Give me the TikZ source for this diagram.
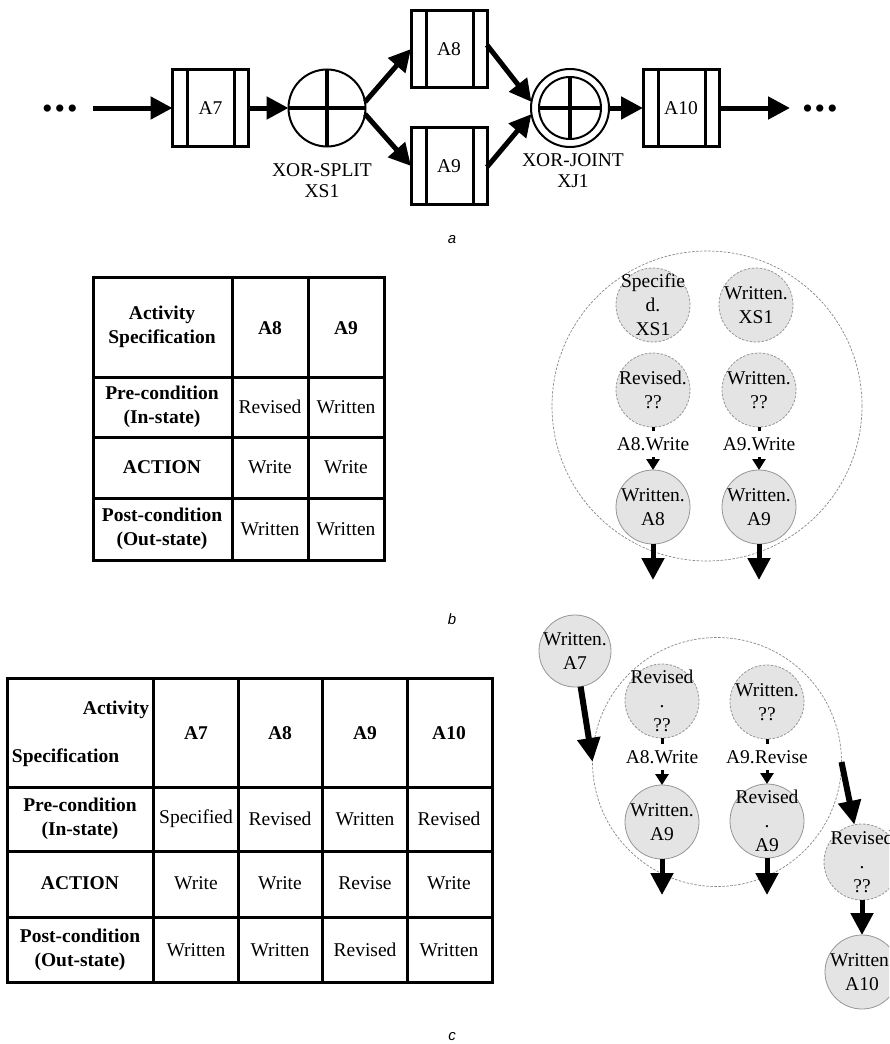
\documentclass[tikz,border=0pt]{standalone}
\usepackage{fontspec}
\setmainfont{Liberation Serif}
\newfontfamily\figlabel{Liberation Sans}
\usetikzlibrary{arrows.meta}
\definecolor{statefill}{RGB}{228,228,228}
\definecolor{stateline}{RGB}{150,150,150}
\definecolor{zoneline}{RGB}{135,135,135}

\begin{document}
\begin{tikzpicture}[x=1pt,y=-1pt,
  every node/.style={inner sep=0pt, outer sep=0pt, font=\fontsize{19.5}{23}\selectfont},
  activity/.style={draw, line width=3pt, minimum width=76pt, minimum height=77pt},
  gate/.style={circle, draw, line width=2pt},
  flow/.style={line width=5pt, -{Triangle[length=22pt,width=22pt]}},
  bigflow/.style={line width=6pt, -{Triangle[length=24pt,width=22pt]}},
  event/.style={line width=3pt, -{Triangle[length=11pt,width=13pt]}},
  evlabel/.style={fill=white, minimum height=26pt, inner xsep=1pt},
  stnode/.style={circle, fill=statefill, draw=stateline, line width=0.8pt, minimum size=74pt},
  guess/.style={stnode, dash pattern=on 2.5pt off 1.5pt},
  zone/.style={circle, draw=zoneline, line width=0.7pt, dash pattern=on 2.5pt off 1.5pt},
  tablerule/.style={line width=3pt},
  bodycell/.style={align=center},
  headcell/.style={align=center, font=\fontsize{19.5}{24}\selectfont\bfseries},
  partlabel/.style={font=\figlabel\itshape\fontsize{15}{15}\selectfont},
  txt/.style={align=center, font=\fontsize{19.5}{21}\selectfont},
  inside/.style={align=center, font=\fontsize{19.5}{24}\selectfont},
  dots/.style={font=\fontsize{30}{30}\selectfont}
]
\useasboundingbox (0,0) rectangle (889,1044);
\clip (0,0) rectangle (889,1044);

% ---------- (a) process fragment ----------
\node[activity] (a7) at (210.5,108) {A7};
\node[activity] (a8) at (449,49) {A8};
\node[activity] (a9) at (449,166) {A9};
\node[activity] (a10) at (681,108) {A10};
\foreach \b in {a7,a8,a9,a10}{
  \draw[line width=3pt] ([xshift=15pt]\b.north west) -- ([xshift=15pt]\b.south west)
    ([xshift=-14pt]\b.north east) -- ([xshift=-14pt]\b.south east);
}
\node[gate, minimum size=77pt] (xs1) at (327,108) {};
\draw[line width=4pt] (xs1.west) -- (xs1.east) (xs1.north) -- (xs1.south);
\node[gate, minimum size=78pt] (xj1) at (570,108) {};
\node[gate, minimum size=62pt] (xj1i) at (570,108) {};
\draw[line width=4pt] (xj1i.west) -- (xj1i.east) (xj1i.north) -- (xj1i.south);

\node[dots] (dl) at (60,112) {•\hspace{2pt}•\hspace{2pt}•};
\node[dots] (dr) at (820,112) {•\hspace{2pt}•\hspace{2pt}•};
\coordinate (in) at (93,108);
\coordinate (out) at (790,108);
\draw[flow] (in) -- (a7.west);
\draw[flow] (a7.east) -- (xs1.west);
\draw[flow] (xs1.9) -- (a8.west);
\draw[flow] (xs1.-9) -- (a9.west);
\draw[flow] ([yshift=4pt]a8.east) -- (xj1.171);
\draw[flow] ([yshift=-1pt]a9.east) -- (xj1.189);
\draw[flow] (xj1.east) -- (a10.west);
\draw[flow] (a10.east) -- (out);

\node[txt] (xs1l) at (322,181) {XOR-SPLIT\\XS1};
\node[txt] (xj1l) at (573,171) {XOR-JOINT\\XJ1};
\node[partlabel] (capa) at (452,240) {a};

% ---------- (b) table ----------
\draw[tablerule] (93,277) rectangle (384,560);
\draw[tablerule] (232,277) -- (232,560) (308,277) -- (308,560)
  (93,377) -- (384,377) (93,437) -- (384,437) (93,498) -- (384,498);
\node[headcell] (tb-h) at (162,327) {Activity\\Specification};
\node[headcell] (tb-a8) at (270,328) {A8};
\node[headcell] (tb-a9) at (346,328) {A9};
\node[headcell] (tb-pre) at (162,407) {Pre-condition\\(In-state)};
\node[bodycell] (tb-pre8) at (270,407) {Revised};
\node[bodycell] (tb-pre9) at (346,407) {Written};
\node[headcell] (tb-act) at (162,467) {ACTION};
\node[bodycell] (tb-act8) at (270,467) {Write};
\node[bodycell] (tb-act9) at (346,467) {Write};
\node[headcell] (tb-post) at (162,529) {Post-condition\\(Out-state)};
\node[bodycell] (tb-post8) at (270,529) {Written};
\node[bodycell] (tb-post9) at (346,529) {Written};

% ---------- (b) state graph ----------
\node[zone, minimum size=310pt] (zb) at (707,406) {};
\node[guess] (s1) at (653,305) {};
\node[guess] (w1) at (756,305) {};
\node[guess] (r8) at (653,390) {};
\node[guess] (w9q) at (759,390) {};
\node[stnode] (w8) at (653,507) {};
\node[stnode] (w9) at (759,507) {};
\node[inside] (t-s1) at (s1) {Specifie\\d.\\XS1};
\node[inside] (t-w1) at (w1) {Written.\\XS1};
\node[inside] (t-r8) at (r8) {Revised.\\??};
\node[inside] (t-w9q) at (w9q) {Written.\\??};
\node[inside] (t-w8) at (w8) {Written.\\A8};
\node[inside] (t-w9) at (w9) {Written.\\A9};
\draw[event] (r8) -- node[evlabel, pos=0.4] (l8) {A8.Write} (w8);
\draw[event] (w9q) -- node[evlabel, pos=0.4] (l9) {A9.Write} (w9);
\coordinate (e8) at (653,580);
\coordinate (e9) at (759,580);
\draw[flow] (w8) -- (e8);
\draw[flow] (w9) -- (e9);
\node[partlabel] (capb) at (452,619) {b};

% ---------- (c) table ----------
\draw[tablerule] (7,678) rectangle (492,982);
\draw[tablerule] (153,678) -- (153,982) (238,678) -- (238,982)
  (322,678) -- (322,982) (407,678) -- (407,982)
  (7,787) -- (492,787) (7,851) -- (492,851) (7,917) -- (492,917);
\node[headcell, anchor=east] (tc-h1) at (149,710) {Activity};
\node[headcell, anchor=west] (tc-h2) at (12,758) {Specification};
\node[headcell] (tc-a7) at (196,733) {A7};
\node[headcell] (tc-a8) at (280,733) {A8};
\node[headcell] (tc-a9) at (365,733) {A9};
\node[headcell] (tc-a10) at (449,733) {A10};
\node[headcell] (tc-pre) at (80,819) {Pre-condition\\(In-state)};
\node[bodycell] (tc-pre7) at (196,819) {Specified};
\node[bodycell] (tc-pre8) at (280,819) {Revised};
\node[bodycell] (tc-pre9) at (365,819) {Written};
\node[bodycell] (tc-pre10) at (449,819) {Revised};
\node[headcell] (tc-act) at (80,883) {ACTION};
\node[bodycell] (tc-act7) at (196,883) {Write};
\node[bodycell] (tc-act8) at (280,883) {Write};
\node[bodycell] (tc-act9) at (365,883) {Revise};
\node[bodycell] (tc-act10) at (449,883) {Write};
\node[headcell] (tc-post) at (80,950) {Post-condition\\(Out-state)};
\node[bodycell] (tc-post7) at (196,950) {Written};
\node[bodycell] (tc-post8) at (280,950) {Written};
\node[bodycell] (tc-post9) at (365,950) {Revised};
\node[bodycell] (tc-post10) at (449,950) {Written};

% ---------- (c) state graph ----------
\node[zone, minimum size=249pt] (zc) at (717,762) {};
\node[stnode, minimum size=72pt] (wa7) at (575,651) {};
\node[guess] (r8c) at (662,701) {};
\node[guess] (w9c) at (767,702) {};
\node[stnode] (w9a) at (662,822) {};
\node[stnode] (r9a) at (767,821) {};
\node[guess, minimum size=76pt] (rq) at (862,862) {};
\node[stnode] (w10) at (862,972) {};
\node[inside] (t-wa7) at (wa7) {Written.\\A7};
\node[inside] (t-r8c) at (r8c) {Revised\\.\\??};
\node[inside] (t-w9c) at (w9c) {Written.\\??};
\node[inside] (t-w9a) at (w9a) {Written.\\A9};
\node[inside] (t-r9a) at (r9a) {Revised\\.\\A9};
\node[inside] (t-rq) at (rq) {Revised\\.\\??};
\node[inside] (t-w10) at (w10) {Written.\\A10};
\draw[bigflow] (wa7) -- (zc.west);
\draw[bigflow] (zc.east) -- (rq);
\draw[flow] (rq) -- (w10);
\draw[event] (r8c) -- node[evlabel, pos=0.4] (l8c) {A8.Write} (w9a);
\draw[event] (w9c) -- node[evlabel, pos=0.4] (l9c) {A9.Revise} (r9a);
\coordinate (e9a) at (662,895);
\coordinate (er9a) at (767,895);
\draw[flow] (w9a) -- (e9a);
\draw[flow] (r9a) -- (er9a);
\node[partlabel] (capc) at (452,1037) {c};
\end{tikzpicture}
\end{document}
